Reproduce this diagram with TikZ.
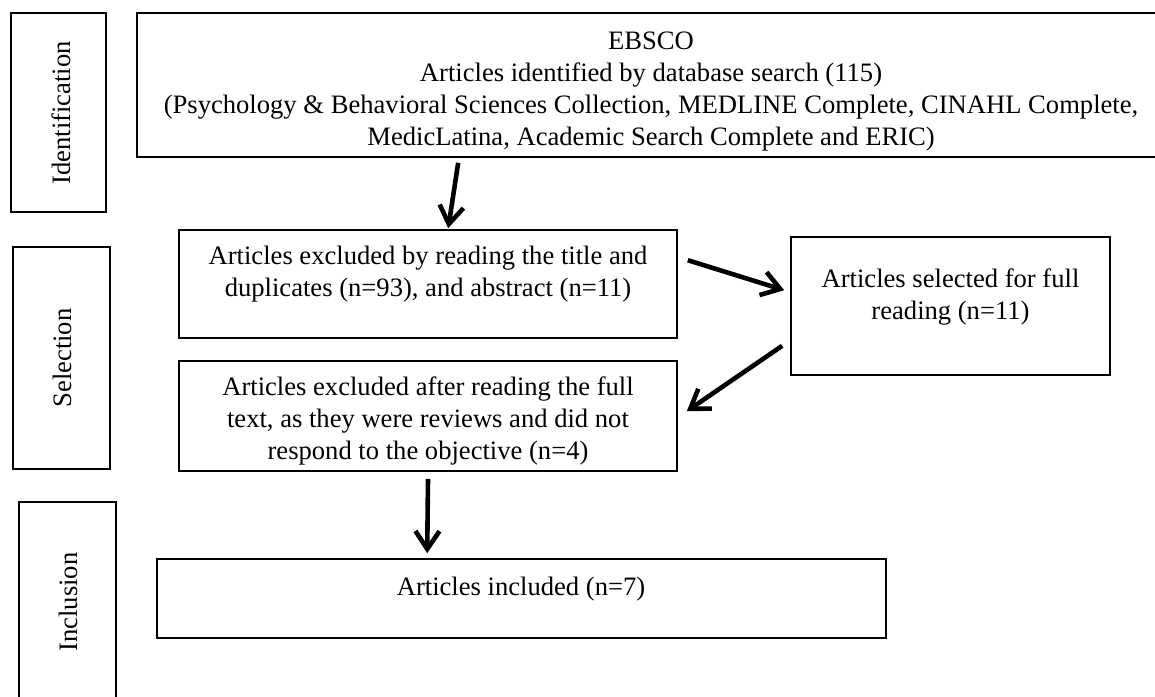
\documentclass[tikz,border=0pt]{standalone}
\usepackage{fontspec}
\setmainfont{Liberation Serif}
\usetikzlibrary{arrows.meta,fit}
\begin{document}
\begin{tikzpicture}[x=0.5pt,y=-0.5pt,
  box/.style={draw, line width=0.8pt, inner sep=0pt},
  txt/.style={align=center, inner sep=0pt, font=\fontsize{13.3}{16}\selectfont},
  side/.style={txt, rotate=90},
  arr/.style={-{Straight Barb[length=9pt,width=12pt]}, line width=2.3pt}]
\useasboundingbox (0,0) rectangle (1155,696);
% side boxes
\node[box, fit={(11,13) (106,212)}] (ident) {};
\node[box, fit={(13,247) (110,469)}] (selec) {};
\node[box, fit={(19,502) (116,702)}] (inclu) {};
\node[side] (identtxt) at (61,113) {Identification};
\node[side] (selectxt) at (62,358) {Selection};
\node[side] (inclutxt) at (68,602) {Inclusion};
% flow boxes
\node[box, fit={(137,13) (1165,157)}] (top) {};
\node[box, fit={(179,230) (677,338)}] (b2) {};
\node[box, fit={(791,237) (1110,375)}] (b3) {};
\node[box, fit={(179,361) (677,471)}] (b4) {};
\node[box, fit={(157,559) (886,638)}] (b5) {};
\node[txt] (toptxt) at (651,92) {EBSCO\\Articles identified by database search (115)\\(Psychology \& Behavioral Sciences Collection, MEDLINE Complete, CINAHL Complete,\\MedicLatina, Academic Search Complete and ERIC)};
\node[txt] (b2txt) at (428,274) {Articles excluded by reading the title and\\duplicates (n=93), and abstract (n=11)};
\node[txt] (b3txt) at (950.5,297) {Articles selected for full\\reading (n=11)};
\node[txt] (b4txt) at (428,421) {Articles excluded after reading the full\\text, as they were reviews and did not\\respond to the objective (n=4)};
\node[txt, anchor=base] (b5txt) at (521,595) {Articles included (n=7)};
% connectors
\draw[arr] ([shift={(322,5)}]top.south west) -- ([shift={(270,-1)}]b2.north west);
\draw[arr] ([shift={(10,31)}]b2.north east) -- ([shift={(-6,54)}]b3.north west);
\draw[arr] ([shift={(-8,-30)}]b3.south west) -- ([shift={(9,51)}]b4.north east);
\draw[arr] ([shift={(0,7)}]b4.south) -- ([shift={(271,-5)}]b5.north west);
\end{tikzpicture}
\end{document}
